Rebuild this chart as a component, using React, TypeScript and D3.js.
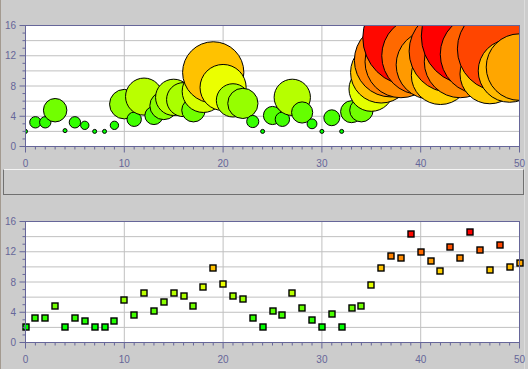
import React from "react";
import * as d3 from "d3";

const xValues: number[] = Array.from({ length: 51 }, (_, i) => i);
const yValues: number[] = [
  2.0, 3.2, 3.2, 4.8, 2.1, 3.2, 2.8, 2.0, 2.0, 2.8,
  5.6, 3.6, 6.6, 4.1, 5.4, 6.5, 6.2, 4.8, 7.3, 9.8,
  7.8, 6.1, 5.7, 3.3, 2.0, 4.1, 3.6, 6.5, 4.5, 3.0,
  2.0, 3.8, 2.0, 4.6, 4.8, 7.6, 9.8, 11.4, 11.2, 14.4,
  12.0, 10.8, 9.4, 12.6, 11.2, 14.6, 12.2, 9.6, 12.9, 10.0,
  10.5,
];
const xTickLabels: number[] = [0, 10, 20, 30, 40, 50];
const yTickLabels: number[] = [0, 4, 8, 12, 16];

const W = 528;
const H = 369;
const AXIS = "#666699";
const GRID = "#c0c0c0";
const FONT = "'Liberation Sans', Arial, sans-serif";

const left = 25.5;
const right = 519.5;

const colorScale = d3
  .scaleLinear<string>()
  .domain([d3.min(yValues)!, (d3.min(yValues)! + d3.max(yValues)!) / 2, d3.max(yValues)!])
  .range(["#00ff00", "#ffff00", "#ff0000"])
  .interpolate(d3.interpolateRgb);

function Panel({ top, bottom, kind, id }: { top: number; bottom: number; kind: "bubble" | "square"; id: string }) {
  const x = d3.scaleLinear().domain([0, 50]).range([left, right]);
  const y = d3.scaleLinear().domain([0, 16]).range([bottom, top]);
  const minorX = d3.range(0, 51, 1);
  const minorY = d3.range(0, 17, 1);
  const gridY = d3.range(2, 16, 2);
  const gridX = [10, 20, 30, 40];
  const data = xValues.map((xv, i) => ({ x: xv, v: yValues[i] }));
  return (
    <g>
      <defs>
        <clipPath id={id}>
          <rect x={left} y={top} width={right - left} height={bottom - top} />
        </clipPath>
      </defs>
      <rect x={left} y={top} width={right - left} height={bottom - top} fill="#ffffff" />
      {gridY.map((g) => (
        <line key={"gy" + g} x1={left} x2={right} y1={y(g)} y2={y(g)} stroke={GRID} strokeWidth={1} />
      ))}
      {gridX.map((g) => (
        <line key={"gx" + g} x1={x(g)} x2={x(g)} y1={top} y2={bottom} stroke={GRID} strokeWidth={1} />
      ))}
      <g clipPath={`url(#${id})`}>
        {kind === "bubble"
          ? data.map((d, i) => {
              const r = Math.max(2, y(0) - y(0.5 * d.v - 0.85));
              return (
                <circle key={i} cx={x(d.x)} cy={y(d.v)} r={r} fill={colorScale(d.v)} stroke="#000" strokeWidth={1} />
              );
            })
          : null}
      </g>
      {kind === "square"
        ? data.map((d, i) => (
            <rect
              key={i}
              x={Math.round(x(d.x)) - 3}
              y={Math.round(y(d.v)) - 3}
              width={6}
              height={6}
              fill={colorScale(d.v)}
              stroke="#000"
              strokeWidth={1.4}
            />
          ))
        : null}
      <rect x={left} y={top} width={right - left} height={bottom - top} fill="none" stroke={AXIS} strokeWidth={1} />
      {minorY.map((t) => (
        <line key={"ty" + t} x1={t % 4 === 0 ? left - 6 : left - 3} x2={left} y1={y(t)} y2={y(t)} stroke={AXIS} strokeWidth={1} />
      ))}
      {minorX.map((t) => (
        <line key={"tx" + t} x1={x(t)} x2={x(t)} y1={bottom} y2={t % 10 === 0 ? bottom + 6 : bottom + 3} stroke={AXIS} strokeWidth={1} />
      ))}
      {yTickLabels.map((t) => (
        <text key={"ly" + t} x={16} y={y(t) + 3.6} textAnchor="end" fontFamily={FONT} fontSize={10} fill={AXIS}>
          {t}
        </text>
      ))}
      {xTickLabels.map((t) => (
        <text key={"lx" + t} x={x(t)} y={bottom + 20} textAnchor="middle" fontFamily={FONT} fontSize={10} fill={AXIS}>
          {t}
        </text>
      ))}
    </g>
  );
}

export default function App() {
  return (
    <svg
      width={W}
      height={H}
      style={{ position: "absolute", left: 0, top: 0, display: "block" }}
      shapeRendering="auto"
    >
      <rect x={0} y={0} width={W} height={H} fill="#cccccc" />
      <line x1={0.5} x2={0.5} y1={0} y2={H} stroke="#a39a90" strokeWidth={1} />
      <line x1={524.5} x2={524.5} y1={0} y2={H} stroke="#dcdcdc" strokeWidth={1} />
      <Panel top={25.5} bottom={146.5} kind="bubble" id="clipTop" />
      <rect x={3.5} y={169.5} width={520} height={25} fill="#cccccc" stroke="#707070" strokeWidth={1} />
      <line x1={3.5} x2={523.5} y1={169.5} y2={169.5} stroke="#f4f4f4" strokeWidth={1} />
      <Panel top={221.5} bottom={342.5} kind="square" id="clipBottom" />
    </svg>
  );
}
